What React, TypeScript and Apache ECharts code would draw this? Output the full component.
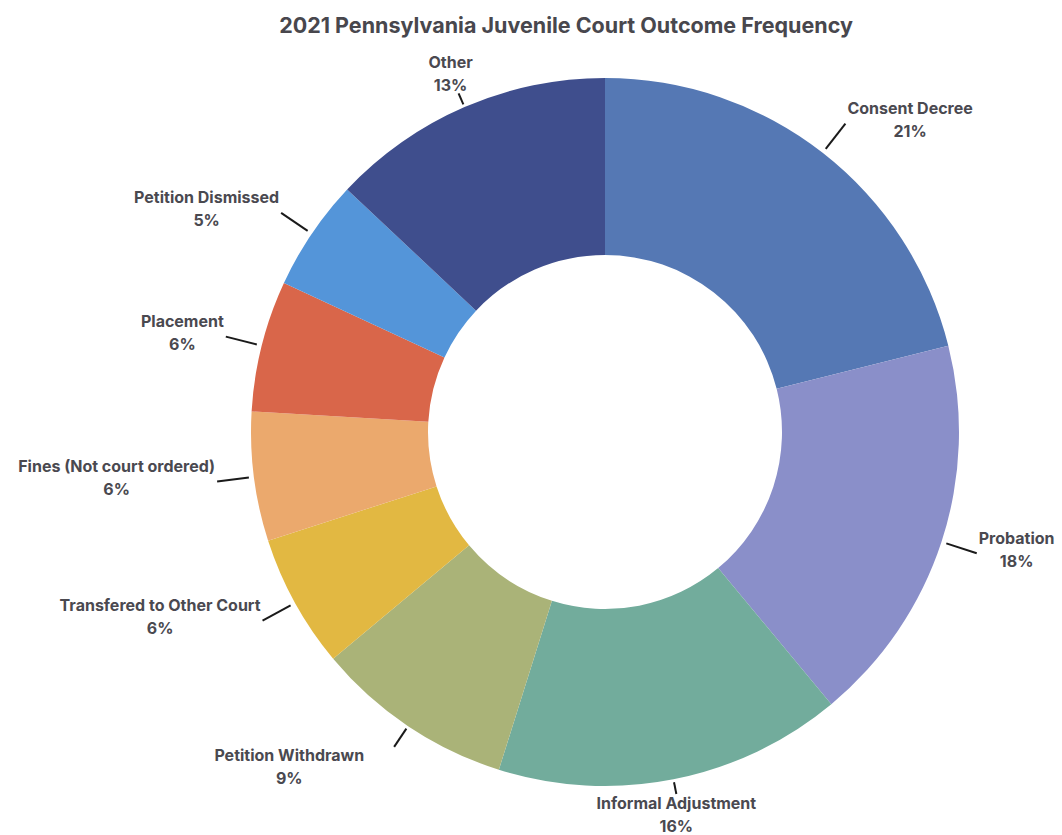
import React, { useEffect, useRef } from "react";
import * as echarts from "echarts";

const categories = [
  "Consent Decree",
  "Probation",
  "Informal Adjustment",
  "Petition Withdrawn",
  "Transfered to Other Court",
  "Fines (Not court ordered)",
  "Placement",
  "Petition Dismissed",
  "Other",
];
const shares = [21.1, 17.9, 15.9, 9.1, 6.1, 5.9, 6.0, 5.1, 13.0];
const colors = [
  "#5578b4",
  "#8a8fc9",
  "#72ac9c",
  "#aab378",
  "#e2b842",
  "#eba96d",
  "#d9664a",
  "#5495d9",
  "#3f4e8d",
];
const title = "2021 Pennsylvania Juvenile Court Outcome Frequency";

const FONT = "Inter, 'DejaVu Sans', sans-serif";

export default function App() {
  const ref = useRef<HTMLDivElement>(null);
  useEffect(() => {
    if (!ref.current) return;
    const chart = echarts.init(ref.current, undefined, { renderer: "svg" });
    chart.setOption({
      animation: false,
      backgroundColor: "#ffffff",
      title: {
        text: title,
        left: 561,
        textAlign: "center",
        top: 9,
        textStyle: {
          fontFamily: FONT,
          fontWeight: 700,
          fontSize: 21.5,
          color: "#48474d",
        },
      },
      series: [
        {
          type: "pie",
          center: [605, 432],
          radius: [177, 354],
          startAngle: 90,
          clockwise: true,
          avoidLabelOverlap: false,
          data: categories.map((name, i) => ({
            name,
            value: shares[i],
            itemStyle: { color: colors[i] },
          })),
          label: {
            show: true,
            position: "outside",
            fontFamily: FONT,
            fontWeight: 700,
            fontSize: 16,
            lineHeight: 23,
            color: "#4a4950",
            formatter: (p: any) => `${p.name}\n${Math.round(p.percent)}%`,
          },
          labelLine: {
            show: true,
            length: 40,
            length2: 0,
            lineStyle: { color: "#1a1a1a", width: 2 },
          },
          labelLayout: (params: any) => {
            const pts = params.labelLinePoints;
            if (!pts) return {};
            const p0 = pts[0];
            const p1 = pts[1];
            const len = Math.hypot(p1[0] - p0[0], p1[1] - p0[1]) || 1;
            const ux = (p1[0] - p0[0]) / len;
            const uy = (p1[1] - p0[1]) / len;
            const vertical = Math.abs(uy) > 0.8;
            const gap = vertical ? 3 : 5;
            const lineLen = vertical ? (Math.abs(uy) < 0.9 ? 22 : 12) : 32;
            const s = [p0[0] + ux * gap, p0[1] + uy * gap];
            const e = [p0[0] + ux * (gap + lineLen), p0[1] + uy * (gap + lineLen)];
            const hw = params.labelRect.width / 2;
            let x: number;
            let y: number;
            if (vertical && uy > 0) {
              x = ux >= 0 ? e[0] : e[0] - hw - 30;
              y = e[1] + 20;
            } else if (vertical && uy < 0) {
              x = e[0] + (ux >= 0 ? 8 : -8);
              y = e[1] - 20;
            } else if (ux >= 0) {
              x = e[0] + hw + 2;
              y = e[1] - 4;
            } else {
              x = e[0] - hw - 2;
              y = e[1] - 4;
            }
            return {
              x,
              y,
              align: "center",
              verticalAlign: "middle",
              labelLinePoints: [s, e],
            };
          },
        },
      ],
    });
    return () => chart.dispose();
  }, []);
  return (
    <div
      ref={ref}
      style={{ position: "fixed", left: 0, top: 0, width: 1062, height: 835 }}
    />
  );
}
